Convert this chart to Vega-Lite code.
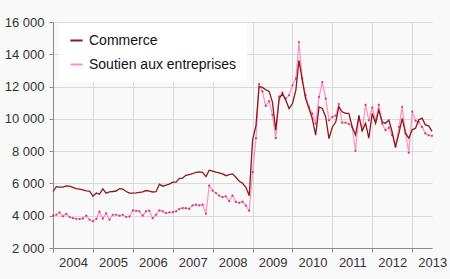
{
  "$schema": "https://vega.github.io/schema/vega-lite/v6.json",
  "width": 379,
  "height": 226,
  "autosize": {"type": "none"},
  "padding": {"left": 53, "top": 22, "right": 18, "bottom": 31},
  "background": "#f9f9f9",
  "config": {
    "view": {"stroke": null},
    "font": "Liberation Sans",
    "axis": {
      "gridColor": "#d9d9d9",
      "gridWidth": 1,
      "domainColor": "#8c8c8c",
      "tickColor": "#8c8c8c",
      "tickSize": 4,
      "labelFontSize": 13,
      "labelColor": "#333333",
      "labelFont": "Liberation Sans",
      "labelOverlap": false
    }
  },
  "datasets": {
    "series": [
      {"m":"2004-01-01","Commerce":5500,"Soutien aux entreprises":4000},{"m":"2004-02-01","Commerce":5800,"Soutien aux entreprises":4060},{"m":"2004-03-01","Commerce":5770,"Soutien aux entreprises":4200},{"m":"2004-04-01","Commerce":5770,"Soutien aux entreprises":3960},{"m":"2004-05-01","Commerce":5850,"Soutien aux entreprises":4120},{"m":"2004-06-01","Commerce":5830,"Soutien aux entreprises":3920},{"m":"2004-07-01","Commerce":5750,"Soutien aux entreprises":3850},{"m":"2004-08-01","Commerce":5680,"Soutien aux entreprises":3810},{"m":"2004-09-01","Commerce":5650,"Soutien aux entreprises":3790},{"m":"2004-10-01","Commerce":5600,"Soutien aux entreprises":3830},{"m":"2004-11-01","Commerce":5540,"Soutien aux entreprises":4000},{"m":"2004-12-01","Commerce":5520,"Soutien aux entreprises":3750},
      {"m":"2005-01-01","Commerce":5200,"Soutien aux entreprises":3650},{"m":"2005-02-01","Commerce":5400,"Soutien aux entreprises":3800},{"m":"2005-03-01","Commerce":5330,"Soutien aux entreprises":4250},{"m":"2005-04-01","Commerce":5660,"Soutien aux entreprises":3820},{"m":"2005-05-01","Commerce":5400,"Soutien aux entreprises":4150},{"m":"2005-06-01","Commerce":5480,"Soutien aux entreprises":3750},{"m":"2005-07-01","Commerce":5500,"Soutien aux entreprises":4060},{"m":"2005-08-01","Commerce":5530,"Soutien aux entreprises":4060},{"m":"2005-09-01","Commerce":5680,"Soutien aux entreprises":4000},{"m":"2005-10-01","Commerce":5650,"Soutien aux entreprises":4060},{"m":"2005-11-01","Commerce":5500,"Soutien aux entreprises":3920},{"m":"2005-12-01","Commerce":5400,"Soutien aux entreprises":3950},
      {"m":"2006-01-01","Commerce":5400,"Soutien aux entreprises":4330},{"m":"2006-02-01","Commerce":5420,"Soutien aux entreprises":4300},{"m":"2006-03-01","Commerce":5450,"Soutien aux entreprises":4270},{"m":"2006-04-01","Commerce":5480,"Soutien aux entreprises":4000},{"m":"2006-05-01","Commerce":5560,"Soutien aux entreprises":4270},{"m":"2006-06-01","Commerce":5520,"Soutien aux entreprises":4310},{"m":"2006-07-01","Commerce":5470,"Soutien aux entreprises":3850},{"m":"2006-08-01","Commerce":5490,"Soutien aux entreprises":4060},{"m":"2006-09-01","Commerce":5950,"Soutien aux entreprises":4330},{"m":"2006-10-01","Commerce":5830,"Soutien aux entreprises":4270},{"m":"2006-11-01","Commerce":5900,"Soutien aux entreprises":4160},{"m":"2006-12-01","Commerce":5960,"Soutien aux entreprises":4200},
      {"m":"2007-01-01","Commerce":6080,"Soutien aux entreprises":4220},{"m":"2007-02-01","Commerce":6080,"Soutien aux entreprises":4270},{"m":"2007-03-01","Commerce":6300,"Soutien aux entreprises":4410},{"m":"2007-04-01","Commerce":6330,"Soutien aux entreprises":4470},{"m":"2007-05-01","Commerce":6500,"Soutien aux entreprises":4470},{"m":"2007-06-01","Commerce":6550,"Soutien aux entreprises":4430},{"m":"2007-07-01","Commerce":6600,"Soutien aux entreprises":4640},{"m":"2007-08-01","Commerce":6680,"Soutien aux entreprises":4680},{"m":"2007-09-01","Commerce":6720,"Soutien aux entreprises":4640},{"m":"2007-10-01","Commerce":6680,"Soutien aux entreprises":4680},{"m":"2007-11-01","Commerce":6420,"Soutien aux entreprises":4120},{"m":"2007-12-01","Commerce":6820,"Soutien aux entreprises":5870},
      {"m":"2008-01-01","Commerce":6760,"Soutien aux entreprises":5550},{"m":"2008-02-01","Commerce":6700,"Soutien aux entreprises":5400},{"m":"2008-03-01","Commerce":6660,"Soutien aux entreprises":5250},{"m":"2008-04-01","Commerce":6590,"Soutien aux entreprises":5150},{"m":"2008-05-01","Commerce":6480,"Soutien aux entreprises":5200},{"m":"2008-06-01","Commerce":6550,"Soutien aux entreprises":4900},{"m":"2008-07-01","Commerce":6590,"Soutien aux entreprises":5250},{"m":"2008-08-01","Commerce":6380,"Soutien aux entreprises":4850},{"m":"2008-09-01","Commerce":6130,"Soutien aux entreprises":4800},{"m":"2008-10-01","Commerce":6010,"Soutien aux entreprises":4870},{"m":"2008-11-01","Commerce":5760,"Soutien aux entreprises":4620},{"m":"2008-12-01","Commerce":5240,"Soutien aux entreprises":4310},
      {"m":"2009-01-01","Commerce":8700,"Soutien aux entreprises":6700},{"m":"2009-02-01","Commerce":9600,"Soutien aux entreprises":8800},{"m":"2009-03-01","Commerce":12000,"Soutien aux entreprises":12150},{"m":"2009-04-01","Commerce":11950,"Soutien aux entreprises":11700},{"m":"2009-05-01","Commerce":11800,"Soutien aux entreprises":10800},{"m":"2009-06-01","Commerce":11700,"Soutien aux entreprises":11100},{"m":"2009-07-01","Commerce":11050,"Soutien aux entreprises":10250},{"m":"2009-08-01","Commerce":9300,"Soutien aux entreprises":8800},{"m":"2009-09-01","Commerce":11250,"Soutien aux entreprises":11370},{"m":"2009-10-01","Commerce":11550,"Soutien aux entreprises":11620},{"m":"2009-11-01","Commerce":11150,"Soutien aux entreprises":11250},{"m":"2009-12-01","Commerce":10640,"Soutien aux entreprises":11460},
      {"m":"2010-01-01","Commerce":10950,"Soutien aux entreprises":12080},{"m":"2010-02-01","Commerce":11780,"Soutien aux entreprises":12490},{"m":"2010-03-01","Commerce":13630,"Soutien aux entreprises":14760},{"m":"2010-04-01","Commerce":12390,"Soutien aux entreprises":12490},{"m":"2010-05-01","Commerce":11250,"Soutien aux entreprises":11460},{"m":"2010-06-01","Commerce":10640,"Soutien aux entreprises":10740},{"m":"2010-07-01","Commerce":10020,"Soutien aux entreprises":10330},{"m":"2010-08-01","Commerce":8990,"Soutien aux entreprises":9700},{"m":"2010-09-01","Commerce":10740,"Soutien aux entreprises":11360},{"m":"2010-10-01","Commerce":10640,"Soutien aux entreprises":12280},{"m":"2010-11-01","Commerce":10120,"Soutien aux entreprises":11250},{"m":"2010-12-01","Commerce":8780,"Soutien aux entreprises":9910},
      {"m":"2011-01-01","Commerce":9500,"Soutien aux entreprises":10120},{"m":"2011-02-01","Commerce":9800,"Soutien aux entreprises":10200},{"m":"2011-03-01","Commerce":10750,"Soutien aux entreprises":10920},{"m":"2011-04-01","Commerce":10440,"Soutien aux entreprises":9760},{"m":"2011-05-01","Commerce":10340,"Soutien aux entreprises":9760},{"m":"2011-06-01","Commerce":10340,"Soutien aux entreprises":9680},{"m":"2011-07-01","Commerce":9510,"Soutien aux entreprises":9510},{"m":"2011-08-01","Commerce":9000,"Soutien aux entreprises":8020},{"m":"2011-09-01","Commerce":10170,"Soutien aux entreprises":10170},{"m":"2011-10-01","Commerce":9260,"Soutien aux entreprises":9300},{"m":"2011-11-01","Commerce":9720,"Soutien aux entreprises":10860},{"m":"2011-12-01","Commerce":8810,"Soutien aux entreprises":9900},
      {"m":"2012-01-01","Commerce":10340,"Soutien aux entreprises":10700},{"m":"2012-02-01","Commerce":9720,"Soutien aux entreprises":9900},{"m":"2012-03-01","Commerce":10550,"Soutien aux entreprises":10860},{"m":"2012-04-01","Commerce":9820,"Soutien aux entreprises":9700},{"m":"2012-05-01","Commerce":9720,"Soutien aux entreprises":9300},{"m":"2012-06-01","Commerce":9930,"Soutien aux entreprises":9450},{"m":"2012-07-01","Commerce":9200,"Soutien aux entreprises":8990},{"m":"2012-08-01","Commerce":8270,"Soutien aux entreprises":8270},{"m":"2012-09-01","Commerce":9100,"Soutien aux entreprises":9510},{"m":"2012-10-01","Commerce":10030,"Soutien aux entreprises":10750},{"m":"2012-11-01","Commerce":9100,"Soutien aux entreprises":9100},{"m":"2012-12-01","Commerce":8800,"Soutien aux entreprises":7900},
      {"m":"2013-01-01","Commerce":9320,"Soutien aux entreprises":10450},{"m":"2013-02-01","Commerce":9430,"Soutien aux entreprises":9880},{"m":"2013-03-01","Commerce":9940,"Soutien aux entreprises":9800},{"m":"2013-04-01","Commerce":10040,"Soutien aux entreprises":9500},{"m":"2013-05-01","Commerce":9630,"Soutien aux entreprises":9100},{"m":"2013-06-01","Commerce":9570,"Soutien aux entreprises":8980},{"m":"2013-07-01","Commerce":9220,"Soutien aux entreprises":8950}
    ]
  },
  "data": {"name": "series"},
  "transform": [
    {"fold": ["Soutien aux entreprises", "Commerce"], "as": ["serie", "v"]}
  ],
  "encoding": {
    "x": {
      "field": "m",
      "type": "temporal",
      "scale": {
        "type": "utc",
        "domain": [
          {"year": 2004, "month": 1, "date": 1, "utc": true},
          {"year": 2013, "month": 7, "date": 1, "utc": true}
        ]
      },
      "axis": {
        "title": null,
        "values": [
          {"year": 2004, "month": 1, "date": 1, "utc": true},
          {"year": 2005, "month": 1, "date": 1, "utc": true},
          {"year": 2006, "month": 1, "date": 1, "utc": true},
          {"year": 2007, "month": 1, "date": 1, "utc": true},
          {"year": 2008, "month": 1, "date": 1, "utc": true},
          {"year": 2009, "month": 1, "date": 1, "utc": true},
          {"year": 2010, "month": 1, "date": 1, "utc": true},
          {"year": 2011, "month": 1, "date": 1, "utc": true},
          {"year": 2012, "month": 1, "date": 1, "utc": true},
          {"year": 2013, "month": 1, "date": 1, "utc": true}
        ],
        "format": "%Y",
        "labelOffset": 20,
        "labelAlign": "center",
        "labelFlush": false,
        "labelOverlap": false,
        "labelPadding": 4,
        "grid": true
      }
    },
    "y": {
      "field": "v",
      "type": "quantitative",
      "scale": {"domain": [2000, 16000], "nice": false, "zero": false},
      "axis": {
        "title": null,
        "values": [2000, 4000, 6000, 8000, 10000, 12000, 14000, 16000],
        "labelExpr": "replace(format(datum.value, ','), ',', ' ')",
        "labelPadding": 5,
        "labelOverlap": false,
        "labelBound": false,
        "grid": true
      }
    }
  },
  "layer": [
    {
      "transform": [{"filter": "datum.serie == 'Soutien aux entreprises'"}],
      "mark": {"type": "line", "strokeWidth": 1.2, "color": "#ff8fc3"}
    },
    {
      "transform": [{"filter": "datum.serie == 'Soutien aux entreprises'"}],
      "mark": {"type": "point", "filled": true, "size": 5, "color": "#c8336d", "opacity": 0.9}
    },
    {
      "mark": {"type": "line", "strokeWidth": 1.3, "opacity": 0},
      "encoding": {
        "color": {
          "field": "serie",
          "type": "nominal",
          "scale": {
            "domain": ["Commerce", "Soutien aux entreprises"],
            "range": ["#8b1a1a", "#ff8fc3"]
          },
          "legend": {
            "title": null,
            "orient": "none",
            "legendX": 6,
            "legendY": 1,
            "symbolType": "stroke",
            "symbolStrokeWidth": 2,
            "symbolSize": 150,
            "symbolOpacity": 1,
            "labelFontSize": 14,
            "labelFont": "Liberation Sans",
            "labelColor": "#111111",
            "labelOffset": 5,
            "fillColor": "#ffffff",
            "padding": 10,
            "rowPadding": 9
          }
        }
      }
    },
    {
      "transform": [{"filter": "datum.serie == 'Commerce'"}],
      "mark": {"type": "line", "strokeWidth": 1.3, "color": "#8b1a1a"}
    }
  ]
}
